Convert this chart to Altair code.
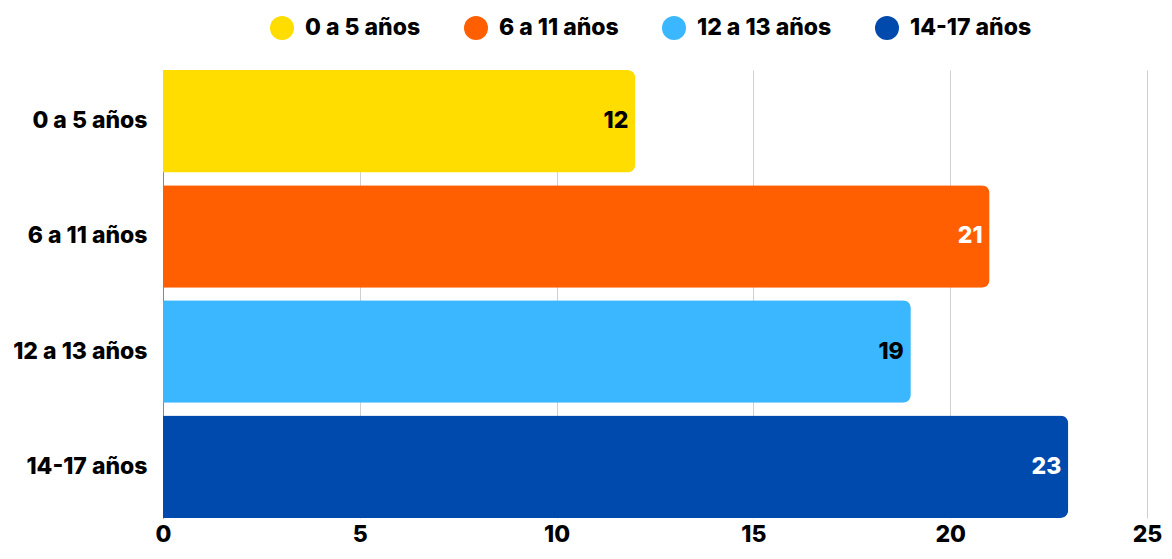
import altair as alt
import pandas as pd

categories = ["0 a 5 años", "6 a 11 años", "12 a 13 años", "14-17 años"]
values = [12, 21, 19, 23]
colors = ["#FFDD00", "#FF5F00", "#3BB7FF", "#004AAD"]
label_colors = ["#000000", "#FFFFFF", "#000000", "#FFFFFF"]

df = pd.DataFrame({"cat": categories, "val": values, "lc": label_colors})

FONT = "Inter"
FS = 23

y_enc = alt.Y("cat:N", sort=categories, title=None,
              scale=alt.Scale(paddingInner=0.11, paddingOuter=0),
              axis=alt.Axis(labelFontSize=FS, labelFontWeight=800, labelFont=FONT,
                            labelColor="#000000", ticks=False, labelPadding=16,
                            domain=True, domainColor="#888888", grid=False))
x_enc = alt.X("val:Q", title=None,
              scale=alt.Scale(domain=[0, 25], nice=False),
              axis=alt.Axis(values=[0, 5, 10, 15, 20, 25], labelFontSize=FS, labelFontWeight=800,
                            labelFont=FONT, labelColor="#000000", ticks=False, domain=False,
                            gridColor="#D0D0D0", labelPadding=23, labelBaseline="alphabetic",
                            labelFlush=False))

bars = alt.Chart(df).mark_bar(cornerRadiusEnd=8).encode(
    y=y_enc, x=x_enc,
    color=alt.Color("cat:N", sort=categories, title=None,
                    scale=alt.Scale(domain=categories, range=colors),
                    legend=alt.Legend(orient="none", legendX=107, legendY=-54,
                                      direction="horizontal", symbolType="circle",
                                      symbolSize=576, symbolStrokeWidth=0, labelFontSize=FS,
                                      labelFontWeight=800, labelFont=FONT, labelColor="#000000",
                                      columnPadding=43, symbolOpacity=1, labelOffset=11))
)

labels = alt.Chart(df).mark_text(align="right", baseline="middle", dx=-7, fontSize=FS,
                                 fontWeight=800, font=FONT).encode(
    y=alt.Y("cat:N", sort=categories), x="val:Q", text="val:Q",
    color=alt.Color("lc:N", scale=None, legend=None)
)

chart = (bars + labels).properties(
    width=984, height=448,
    autosize=alt.AutoSizeParams(type="none"),
    padding={"left": 155, "top": 62, "right": 17, "bottom": 33},
).configure_view(stroke=None)

chart.save("out.html", embed_options={"renderer": "svg", "actions": False})
